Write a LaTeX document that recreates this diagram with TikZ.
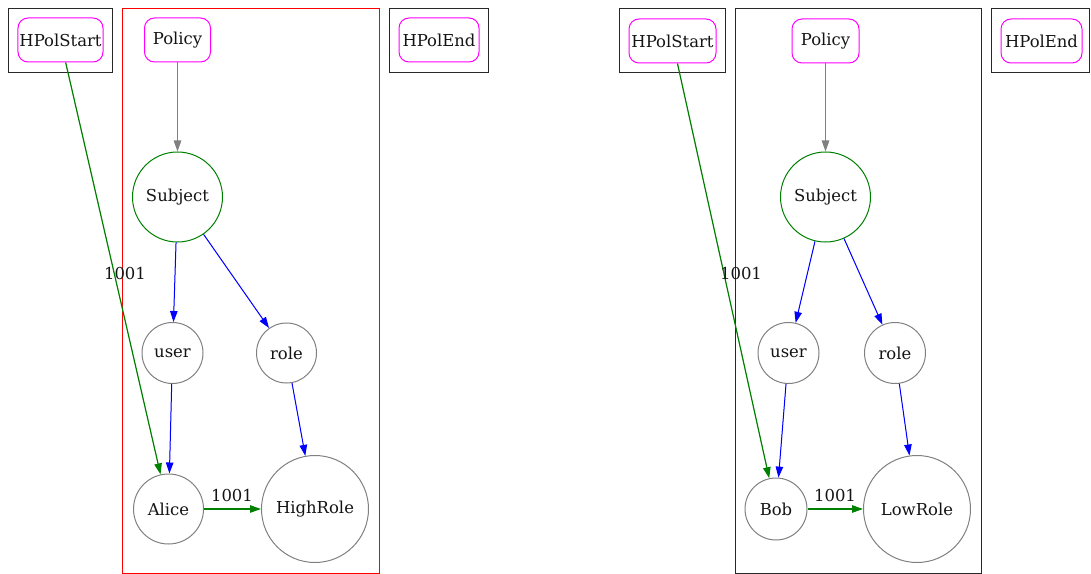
\documentclass[tikz,border=0pt]{standalone}
\usepackage{fontspec}
\setmainfont{DejaVu Serif}
\usetikzlibrary{arrows.meta}
\definecolor{gvmag}{RGB}{255,0,255}
\definecolor{gvgreen}{RGB}{0,128,0}
\definecolor{gvgray}{RGB}{128,128,128}
\definecolor{gvline}{RGB}{40,40,40}
\definecolor{gvred}{RGB}{255,0,0}
\definecolor{gvblue}{RGB}{0,0,255}
\definecolor{gvtext}{RGB}{20,20,20}
\tikzset{
  every node/.style={font=\fontsize{16.5}{19}\selectfont, text=gvtext},
  pol/.style={draw=gvmag, line width=1bp, rounded corners=10bp, minimum height=44bp, inner sep=0pt},
  circ/.style={draw=gvgray, circle, line width=1bp, inner sep=0pt},
  subj/.style={draw=gvgreen, circle, line width=1bp, inner sep=0pt, minimum size=90bp},
  clus/.style={draw=gvline, line width=1bp},
  redclus/.style={draw=gvred, line width=1bp},
  tip/.style={-{Triangle[length=11bp,width=7.5bp]}},
  bedge/.style={tip, draw=gvblue, fill=gvblue, line width=1bp},
  gedge/.style={tip, draw=gvgreen, fill=gvgreen, line width=1.2bp},
  yedge/.style={tip, draw=gvgray, fill=gvgray, line width=1.2bp},
  lbl/.style={inner sep=0pt},
}
\begin{document}
\begin{tikzpicture}[x=1bp,y=-1bp]
\useasboundingbox (0,0) rectangle (1091,574);
% ---------- left graph ----------
\draw[clus] (8.5,8.5) rectangle (112.5,72.5);
\draw[redclus] (122.5,8.5) rectangle (379.5,573.5);
\draw[clus] (389.5,8.5) rectangle (488.5,72.5);
\node[pol, minimum width=85bp] (hs1) at (60.5,40) {HPolStart};
\node[pol, minimum width=66bp] (p1) at (177.5,40) {Policy};
\node[pol, minimum width=80bp] (he1) at (439,40) {HPolEnd};
\node[subj] (s1) at (177.5,197) {Subject};
\node[circ, minimum size=61bp] (u1) at (172.5,353) {user};
\node[circ, minimum size=60bp] (r1) at (286.5,353) {role};
\node[circ, minimum size=70bp] (a1) at (168.5,509) {Alice};
\node[circ, minimum size=107bp] (h1) at (315,509) {HighRole};
\draw[yedge] (p1) -- (s1);
\draw[bedge] (s1) -- (u1);
\draw[bedge] (s1) -- (r1);
\draw[bedge] (u1) -- (a1);
\draw[bedge] (r1) -- (h1);
\draw[gedge] (hs1) -- (a1);
\draw[gedge] (a1) -- (h1);
\node[lbl] (l1a) at (125,274) {1001};
\node[lbl] (l1b) at (232,496) {1001};
% ---------- right graph ----------
\draw[clus] (619.5,8.5) rectangle (725.5,72.5);
\draw[clus] (735.5,8.5) rectangle (981.5,573.5);
\draw[clus] (991.5,8.5) rectangle (1089.5,72.5);
\node[pol, minimum width=87bp] (hs2) at (672.5,41) {HPolStart};
\node[pol, minimum width=67bp] (p2) at (825.5,41) {Policy};
\node[pol, minimum width=81bp] (he2) at (1041.5,41) {HPolEnd};
\node[subj] (s2) at (825.5,197) {Subject};
\node[circ, minimum size=61bp] (u2) at (788.5,353) {user};
\node[circ, minimum size=61bp] (r2) at (895,353) {role};
\node[circ, minimum size=62bp] (b2) at (776,509) {Bob};
\node[circ, minimum size=107bp] (w2) at (917,509) {LowRole};
\draw[yedge] (p2) -- (s2);
\draw[bedge] (s2) -- (u2);
\draw[bedge] (s2) -- (r2);
\draw[bedge] (u2) -- (b2);
\draw[bedge] (r2) -- (w2);
\draw[gedge] (hs2) -- (b2);
\draw[gedge] (b2) -- (w2);
\node[lbl] (l2a) at (741,274) {1001};
\node[lbl] (l2b) at (835,496) {1001};
\end{tikzpicture}
\end{document}
